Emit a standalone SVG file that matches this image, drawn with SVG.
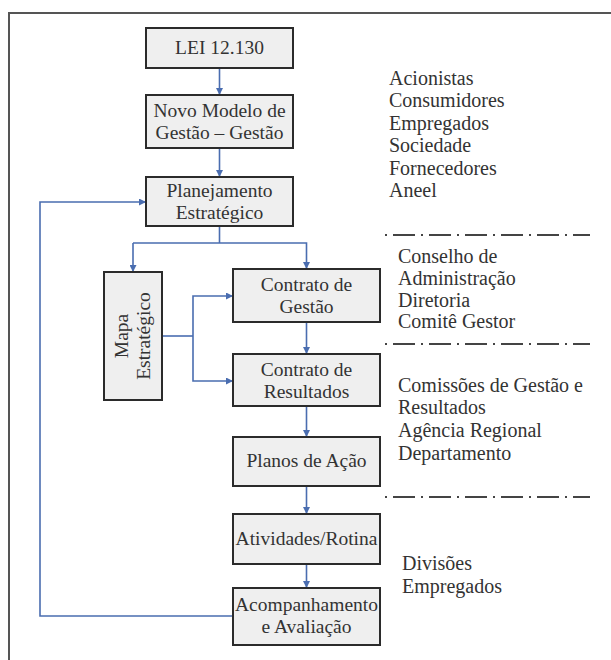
<svg xmlns="http://www.w3.org/2000/svg" width="611" height="660" viewBox="0 0 611 660">
<style>
.box{fill:#efefef;stroke:#2b2b2b;stroke-width:2}
.t{font-family:"Liberation Serif","Times New Roman",serif;font-size:19.5px;fill:#333;text-anchor:middle}
.r{font-family:"Liberation Serif","Times New Roman",serif;font-size:20px;fill:#333}
.c{fill:none;stroke:#4a6db0;stroke-width:1.6}
.dd{stroke:#444;stroke-width:1.8;stroke-dasharray:2 6 22 6;fill:none}
</style>
<defs>
<marker id="ah" viewBox="0 0 10 10" refX="10" refY="5" markerWidth="7" markerHeight="7" markerUnits="userSpaceOnUse" orient="auto">
<path d="M0,0 L10,5 L0,10 z" fill="#4a6db0"/>
</marker>
</defs>
<rect x="0" y="0" width="611" height="660" fill="#fff"/>
<path d="M9,660 V13 H611" fill="none" stroke="#555" stroke-width="2"/>

<g id="connectors">
<line class="c" x1="219.5" y1="69" x2="219.5" y2="95" marker-end="url(#ah)"/>
<line class="c" x1="219.5" y1="149" x2="219.5" y2="177" marker-end="url(#ah)"/>
<path class="c" d="M219.5,227 V243"/>
<path class="c" d="M133,243 H306.5 V269" marker-end="url(#ah)"/>
<line class="c" x1="133" y1="243" x2="133" y2="272" marker-end="url(#ah)"/>
<path class="c" d="M163,336 H193"/>
<path class="c" d="M193,336 V296 H233" marker-end="url(#ah)"/>
<path class="c" d="M193,336 V381 H233" marker-end="url(#ah)"/>
<line class="c" x1="306.5" y1="323" x2="306.5" y2="354" marker-end="url(#ah)"/>
<line class="c" x1="306.5" y1="407" x2="306.5" y2="437" marker-end="url(#ah)"/>
<line class="c" x1="306.5" y1="487" x2="306.5" y2="514" marker-end="url(#ah)"/>
<line class="c" x1="306.5" y1="565" x2="306.5" y2="588" marker-end="url(#ah)"/>
<path class="c" d="M233,616 H40 V202 H146" marker-end="url(#ah)"/>
</g>

<g id="lei"><rect class="box" x="146" y="28" width="147" height="40"/><text class="t" x="219.5" y="54">LEI 12.130</text></g>
<g id="novo"><rect class="box" x="146" y="95" width="147" height="53"/><text class="t" x="219.5" y="117">Novo Modelo de</text><text class="t" x="219.5" y="139">Gestão – Gestão</text></g>
<g id="planejamento"><rect class="box" x="146" y="177" width="147" height="49"/><text class="t" x="219.5" y="197">Planejamento</text><text class="t" x="219.5" y="219">Estratégico</text></g>
<g id="mapa"><rect class="box" x="104" y="272" width="58" height="128"/><text class="t" transform="translate(133,336) rotate(-90)" x="0" y="-5">Mapa</text><text class="t" transform="translate(133,336) rotate(-90)" x="0" y="17">Estratégico</text></g>
<g id="contrato-gestao"><rect class="box" x="233" y="269" width="147" height="53"/><text class="t" x="306.5" y="291">Contrato de</text><text class="t" x="306.5" y="313">Gestão</text></g>
<g id="contrato-resultados"><rect class="box" x="233" y="354" width="147" height="52"/><text class="t" x="306.5" y="376">Contrato de</text><text class="t" x="306.5" y="398">Resultados</text></g>
<g id="planos"><rect class="box" x="233" y="437" width="147" height="49"/><text class="t" x="306.5" y="467">Planos de Ação</text></g>
<g id="atividades"><rect class="box" x="233" y="514" width="147" height="50"/><text class="t" x="306.5" y="545">Atividades/Rotina</text></g>
<g id="acompanhamento"><rect class="box" x="233" y="588" width="147" height="57"/><text class="t" x="306.5" y="611">Acompanhamento</text><text class="t" x="306.5" y="633">e Avaliação</text></g>

<g id="stakeholders">
<text class="r" x="389" y="85">Acionistas</text>
<text class="r" x="389" y="107">Consumidores</text>
<text class="r" x="389" y="130">Empregados</text>
<text class="r" x="389" y="152">Sociedade</text>
<text class="r" x="389" y="175">Fornecedores</text>
<text class="r" x="389" y="197">Aneel</text>
</g>
<line class="dd" x1="385" y1="235" x2="590" y2="235"/>
<g id="conselho">
<text class="r" x="398" y="263">Conselho de</text>
<text class="r" x="398" y="285">Administração</text>
<text class="r" x="398" y="307">Diretoria</text>
<text class="r" x="398" y="328">Comitê Gestor</text>
</g>
<line class="dd" x1="385" y1="344" x2="590" y2="344"/>
<g id="comissoes">
<text class="r" x="398" y="392">Comissões de Gestão e</text>
<text class="r" x="398" y="414">Resultados</text>
<text class="r" x="398" y="437">Agência Regional</text>
<text class="r" x="398" y="460">Departamento</text>
</g>
<line class="dd" x1="385" y1="497" x2="590" y2="497"/>
<g id="divisoes">
<text class="r" x="402" y="570">Divisões</text>
<text class="r" x="402" y="593">Empregados</text>
</g>
</svg>
